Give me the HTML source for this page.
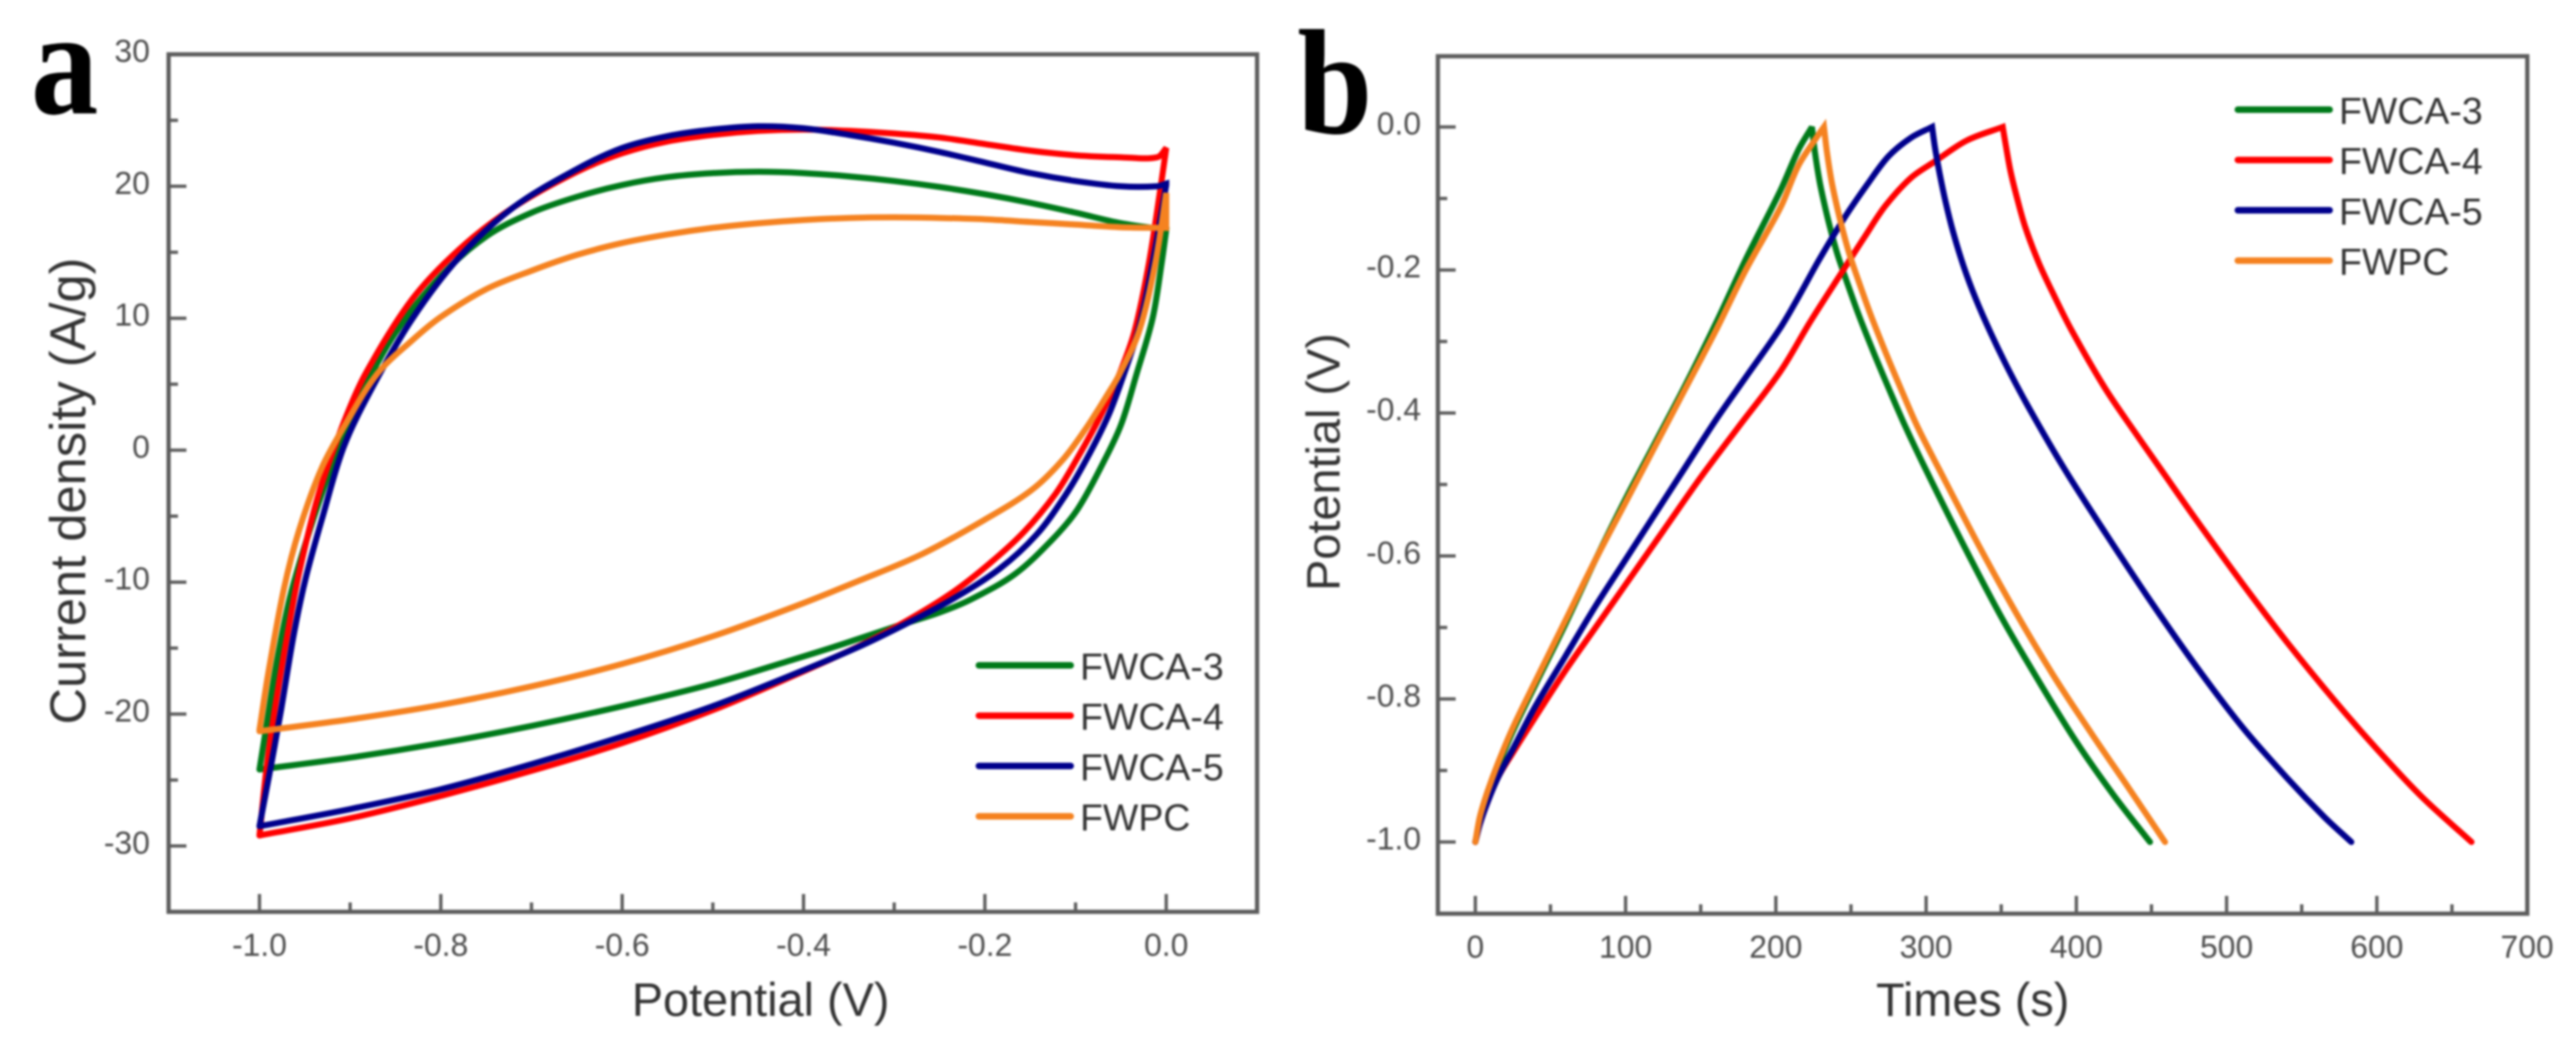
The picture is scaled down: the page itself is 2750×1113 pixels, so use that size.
<!DOCTYPE html>
<html lang="en">
<head>
<meta charset="utf-8">
<title>FWCA and FWPC electrochemical curves</title>
<style>
html,body{margin:0;padding:0;background:#fff;width:2750px;height:1113px;overflow:hidden}
svg{display:block;filter:blur(1.1px)}
text{font-family:"Liberation Sans",sans-serif}
</style>
</head>
<body>
<svg id="figure" xmlns="http://www.w3.org/2000/svg" width="2750" height="1113" viewBox="0 0 2750 1113">
<rect width="2750" height="1113" fill="#fff"/>
<text transform="translate(33,121) scale(.9,1)" font-size="160" font-weight="700" style="font-family:'Liberation Serif',serif" fill="#000">a</text>
<text transform="translate(1385,142) scale(.9,1)" font-size="160" font-weight="700" style="font-family:'Liberation Serif',serif" fill="#000">b</text>
<text x="812" y="1084" font-size="50" text-anchor="middle" fill="#333">Potential (V)</text>
<text transform="translate(91,524) rotate(-90)" font-size="54" text-anchor="middle" fill="#333">Current density (A/g)</text>
<text x="2106" y="1084" font-size="50" text-anchor="middle" fill="#333">Times (s)</text>
<text transform="translate(1430,493) rotate(-90)" font-size="50" text-anchor="middle" fill="#333">Potential (V)</text>
<g id="panel-a"></g>
<g id="panel-b"></g>
</svg>
<script>
// Shared legend and colours
const seriesNames = ["FWCA-3", "FWCA-4", "FWCA-5", "FWPC"];
const seriesColors = ["#007a1a", "#ff0000", "#00008c", "#f58220"];

// Panel a: tick labels
const cvXTicks = [-1.0, -0.8, -0.6, -0.4, -0.2, 0.0];
const cvXMinorTicks = [-0.9, -0.7, -0.5, -0.3, -0.1];
const cvYTicks = [30, 20, 10, 0, -10, -20, -30];
const cvYMinorTicks = [25, 15, 5, -5, -15, -25];

// Panel a: FWCA-3
const cv3UpV = [-1, -0.993, -0.98, -0.962, -0.921, -0.89, -0.85, -0.8, -0.75, -0.7, -0.65, -0.6, -0.55, -0.5, -0.45, -0.4, -0.35, -0.3, -0.25, -0.2, -0.15, -0.1, -0.05, 0];
const cv3UpI = [-24.2, -21.2, -15.7, -10, -1.3, 3.9, 8.9, 13.2, 16.2, 18, 19.2, 20.1, 20.7, 21, 21.1, 21, 20.75, 20.4, 19.95, 19.4, 18.75, 18, 17.2, 16.7];
const cv3DownV = [0, -0.005, -0.015, -0.033, -0.05, -0.071, -0.098, -0.126, -0.167, -0.215, -0.25, -0.298, -0.357, -0.408, -0.5, -0.6, -0.7, -0.8, -0.9, -1];
const cv3DownI = [16.7, 14.2, 10, 5.7, 1.9, -1.15, -4.5, -6.8, -9.4, -11.3, -12.3, -13.35, -14.7, -15.8, -17.7, -19.4, -20.9, -22.2, -23.3, -24.2];

// Panel a: FWCA-4
const cv4UpV = [-1, -0.992, -0.983, -0.969, -0.956, -0.935, -0.907, -0.883, -0.832, -0.78, -0.72, -0.65, -0.6, -0.55, -0.5, -0.45, -0.4, -0.35, -0.3, -0.25, -0.2, -0.15, -0.1, -0.05, -0.01, 0];
const cv4UpI = [-29.2, -24, -19.6, -13.9, -9.2, -3.4, 2.1, 5.8, 11.4, 15.2, 18.4, 21.1, 22.5, 23.4, 23.9, 24.2, 24.3, 24.2, 24, 23.7, 23.2, 22.7, 22.35, 22.2, 22.2, 22.9];
const cv4DownV = [0, -0.006, -0.019, -0.035, -0.052, -0.071, -0.098, -0.122, -0.157, -0.195, -0.236, -0.288, -0.339, -0.408, -0.5, -0.6, -0.7, -0.8, -0.9, -1];
const cv4DownI = [22.9, 20, 14.2, 9, 5.7, 2.8, -0.6, -3.3, -6.2, -8.6, -10.8, -13, -14.85, -17, -19.7, -22.2, -24.3, -26.2, -27.9, -29.2];

// Panel a: FWCA-5
const cv5UpV = [-1, -0.987, -0.976, -0.962, -0.949, -0.931, -0.907, -0.876, -0.832, -0.78, -0.72, -0.65, -0.6, -0.55, -0.5, -0.45, -0.4, -0.35, -0.3, -0.25, -0.2, -0.15, -0.1, -0.05, -0.01, 0];
const cv5UpI = [-28.5, -23.8, -19.6, -13.9, -9.7, -5.2, 0.26, 4.7, 9.9, 14.6, 18.4, 21.3, 22.9, 23.8, 24.3, 24.55, 24.4, 23.9, 23.3, 22.6, 21.8, 21, 20.4, 20, 20, 20.2];
const cv5DownV = [0, -0.015, -0.03, -0.047, -0.064, -0.088, -0.112, -0.143, -0.184, -0.236, -0.288, -0.339, -0.408, -0.5, -0.6, -0.7, -0.8, -0.9, -1];
const cv5DownI = [20.1, 14.2, 9.3, 5.7, 2.6, -0.7, -3.5, -6.4, -9, -11.3, -13.2, -14.9, -16.9, -19.4, -21.7, -23.8, -25.7, -27.2, -28.5];

// Panel a: FWPC
const cvPcUpV = [-1, -0.99, -0.973, -0.956, -0.931, -0.904, -0.87, -0.832, -0.8, -0.75, -0.7, -0.65, -0.6, -0.55, -0.5, -0.45, -0.4, -0.35, -0.3, -0.25, -0.2, -0.15, -0.1, -0.05, 0];
const cvPcUpI = [-21.2, -16.8, -10.5, -6, -1.3, 2.1, 5.8, 8.3, 10.1, 12.2, 13.6, 14.8, 15.7, 16.35, 16.85, 17.2, 17.45, 17.6, 17.65, 17.6, 17.5, 17.3, 17.1, 16.9, 16.85];
const cvPcDownV = [0, -0.012, -0.03, -0.052, -0.064, -0.088, -0.115, -0.149, -0.201, -0.27, -0.339, -0.408, -0.5, -0.6, -0.7, -0.8, -0.9, -1];
const cvPcDownI = [19.5, 14.2, 9, 5.7, 4.3, 1.7, -0.8, -3.05, -5.3, -7.9, -9.9, -11.8, -14.1, -16.2, -17.9, -19.3, -20.4, -21.3];

// Panel b: tick labels
const gcdXTicks = [0, 100, 200, 300, 400, 500, 600, 700];
const gcdXMinorTicks = [50, 150, 250, 350, 450, 550, 650];
const gcdYTicks = [0.0, -0.2, -0.4, -0.6, -0.8, -1.0];
const gcdYMinorTicks = [-0.1, -0.3, -0.5, -0.7, -0.9];

// Panel b: FWCA-3
const gcd3ChargeT = [0, 3, 8, 15, 25, 40, 60, 80, 100, 120, 140, 160, 180, 203, 215, 224];
const gcd3ChargeV = [-1, -0.97, -0.935, -0.895, -0.845, -0.78, -0.695, -0.605, -0.52, -0.44, -0.36, -0.275, -0.185, -0.089, -0.032, 0];
const gcd3DischargeT = [224, 226, 229, 232, 236, 241, 247, 255, 265, 275, 286, 300, 325, 350, 375, 400, 425, 449];
const gcd3DischargeV = [0, -0.035, -0.075, -0.105, -0.14, -0.178, -0.215, -0.262, -0.315, -0.365, -0.418, -0.48, -0.585, -0.685, -0.775, -0.86, -0.935, -1];

// Panel b: FWCA-4
const gcd4ChargeT = [0, 3, 8, 15, 25, 40, 60, 80, 100, 125, 150, 175, 203, 223, 244, 259, 273, 290, 306, 327, 351];
const gcd4ChargeV = [-1, -0.975, -0.945, -0.91, -0.875, -0.825, -0.76, -0.7, -0.64, -0.565, -0.49, -0.42, -0.342, -0.272, -0.203, -0.154, -0.11, -0.071, -0.048, -0.019, 0];
const gcd4DischargeT = [351, 353, 356, 360, 366, 375, 385, 397, 419, 440, 456, 480, 510, 540, 573, 600, 630, 663];
const gcd4DischargeV = [0, -0.025, -0.06, -0.095, -0.14, -0.19, -0.235, -0.285, -0.365, -0.43, -0.478, -0.55, -0.637, -0.72, -0.805, -0.87, -0.937, -1];

// Panel b: FWCA-5
const gcd5ChargeT = [0, 3, 8, 15, 25, 40, 60, 80, 100, 120, 140, 160, 180, 203, 215, 229, 246, 261, 275, 290, 304];
const gcd5ChargeV = [-1, -0.975, -0.945, -0.91, -0.87, -0.81, -0.74, -0.67, -0.605, -0.54, -0.475, -0.41, -0.35, -0.281, -0.238, -0.185, -0.126, -0.08, -0.041, -0.015, 0];
const gcd5DischargeT = [304, 306, 309, 313, 318, 325, 333, 343, 355, 369, 392, 420, 450, 480, 510, 540, 565, 583];
const gcd5DischargeV = [0, -0.03, -0.065, -0.105, -0.147, -0.195, -0.24, -0.288, -0.34, -0.395, -0.478, -0.57, -0.665, -0.755, -0.838, -0.91, -0.965, -1];

// Panel b: FWPC
const gcdPcChargeT = [0, 3, 8, 15, 25, 40, 60, 80, 100, 120, 140, 160, 180, 203, 215, 227, 232];
const gcdPcChargeV = [-1, -0.965, -0.93, -0.89, -0.84, -0.775, -0.69, -0.605, -0.525, -0.445, -0.365, -0.285, -0.2, -0.113, -0.054, -0.015, 0];
const gcdPcDischargeT = [232, 234, 237, 240, 244, 249, 255, 263, 273, 283, 294, 309, 335, 360, 385, 410, 435, 459];
const gcdPcDischargeV = [0, -0.035, -0.075, -0.105, -0.14, -0.178, -0.215, -0.262, -0.315, -0.365, -0.418, -0.48, -0.585, -0.68, -0.768, -0.848, -0.925, -1];

const SVG_NS = "http://www.w3.org/2000/svg";
const AXIS_COLOR = "#5c5c5c";
const TEXT_COLOR = "#4d4d4d";

function axisA(v) { return 1245 + v * 968; }
function axisAY(v) { return 480.4 - v * 14.08; }
function axisB(v) { return 1575 + v * 1.604; }
function axisBY(v) { return 135.5 - v * 763; }

function createNode(tag, parent, attrs) {
  const node = document.createElementNS(SVG_NS, tag);
  Object.keys(attrs).forEach(function (key) { node.setAttribute(key, attrs[key]); });
  parent.appendChild(node);
  return node;
}

function smoothBranch(xs, ys, sx, sy, continuing) {
  const pts = xs.map(function (x, i) { return [sx(x), sy(ys[i])]; });
  let d = (continuing ? "L" : "M") + pts[0][0].toFixed(2) + " " + pts[0][1].toFixed(2);
  function tangent(i) {
    const a = pts[Math.max(0, i - 1)];
    const b = pts[Math.min(pts.length - 1, i + 1)];
    const dx = b[0] - a[0];
    const dy = b[1] - a[1];
    const len = Math.hypot(dx, dy) || 1;
    return [dx / len, dy / len];
  }
  for (let i = 0; i < pts.length - 1; i++) {
    const p = pts[i];
    const q = pts[i + 1];
    const seg = Math.hypot(q[0] - p[0], q[1] - p[1]) / 3;
    const t0 = tangent(i);
    const t1 = tangent(i + 1);
    d += "C" + (p[0] + t0[0] * seg).toFixed(2) + " " + (p[1] + t0[1] * seg).toFixed(2) + " " +
      (q[0] - t1[0] * seg).toFixed(2) + " " + (q[1] - t1[1] * seg).toFixed(2) + " " +
      q[0].toFixed(2) + " " + q[1].toFixed(2);
  }
  return d;
}

function drawPanel(cfg) {
  const root = document.getElementById(cfg.id);

  cfg.series.forEach(function (s, i) {
    const d = smoothBranch(s[0], s[1], cfg.sx, cfg.sy, false) + smoothBranch(s[2], s[3], cfg.sx, cfg.sy, true);
    const path = createNode("path", root, { d: d, fill: "none", stroke: seriesColors[i], "stroke-width": 6.5, "stroke-linejoin": "miter", "stroke-miterlimit": 3, "stroke-linecap": "round" });
    
    
  });

  const frame = createNode("rect", root, { x: cfg.left, y: cfg.top, width: cfg.right - cfg.left, height: cfg.bottom - cfg.top, fill: "none", stroke: AXIS_COLOR, "stroke-width": 4.5 });
  
  

  cfg.xTicks.forEach(function (v) {
    const px = cfg.sx(v);
    const tick = createNode("line", root, { x1: px, x2: px, y1: cfg.bottom, y2: cfg.bottom - 19, stroke: AXIS_COLOR, "stroke-width": 3.5 });
    
    
    const label = createNode("text", root, { x: px, y: cfg.xLabelY, "font-size": 34, "text-anchor": "middle", fill: TEXT_COLOR });
    
    
    label.textContent = cfg.xFormat(v);
  });
  cfg.xMinor.forEach(function (v) {
    const px = cfg.sx(v);
    const tick = createNode("line", root, { x1: px, x2: px, y1: cfg.bottom, y2: cfg.bottom - 10, stroke: AXIS_COLOR, "stroke-width": 3.5 });
    
    
  });
  cfg.yTicks.forEach(function (v) {
    const py = cfg.sy(v);
    const tick = createNode("line", root, { x1: cfg.left, x2: cfg.left + 19, y1: py, y2: py, stroke: AXIS_COLOR, "stroke-width": 3.5 });
    
    
    const label = createNode("text", root, { x: cfg.yLabelX, y: py + 8, "font-size": 34, "text-anchor": "end", fill: TEXT_COLOR });
    
    
    label.textContent = cfg.yFormat(v);
  });
  cfg.yMinor.forEach(function (v) {
    const py = cfg.sy(v);
    const tick = createNode("line", root, { x1: cfg.left, x2: cfg.left + 10, y1: py, y2: py, stroke: AXIS_COLOR, "stroke-width": 3.5 });
    
    
  });

  seriesNames.forEach(function (name, i) {
    const ly = cfg.legendY + i * 53.7;
    const key = createNode("line", root, { x1: cfg.legendX, x2: cfg.legendX + 98, y1: ly, y2: ly, stroke: seriesColors[i], "stroke-width": 7, "stroke-linecap": "round" });
    
    
    const label = createNode("text", root, { x: cfg.legendX + 108, y: ly + 15, "font-size": 40, fill: "#333" });
    
    
    label.textContent = name;
  });
}

drawPanel({
  id: "panel-a", left: 180, right: 1342, top: 58, bottom: 973,
  sx: axisA, sy: axisAY,
  xTicks: cvXTicks, xMinor: cvXMinorTicks, yTicks: cvYTicks, yMinor: cvYMinorTicks,
  xFormat: function (v) { return v.toFixed(1); },
  yFormat: function (v) { return String(v); },
  xLabelY: 1020, yLabelX: 160, legendX: 1045, legendY: 710,
  series: [
    [cv3UpV, cv3UpI, cv3DownV, cv3DownI],
    [cv4UpV, cv4UpI, cv4DownV, cv4DownI],
    [cv5UpV, cv5UpI, cv5DownV, cv5DownI],
    [cvPcUpV, cvPcUpI, cvPcDownV, cvPcDownI]
  ]
});

drawPanel({
  id: "panel-b", left: 1535, right: 2698, top: 60, bottom: 975,
  sx: axisB, sy: axisBY,
  xTicks: gcdXTicks, xMinor: gcdXMinorTicks, yTicks: gcdYTicks, yMinor: gcdYMinorTicks,
  xFormat: function (v) { return String(v); },
  yFormat: function (v) { return v.toFixed(1); },
  xLabelY: 1022, yLabelX: 1517, legendX: 2389, legendY: 117,
  series: [
    [gcd3ChargeT, gcd3ChargeV, gcd3DischargeT, gcd3DischargeV],
    [gcd4ChargeT, gcd4ChargeV, gcd4DischargeT, gcd4DischargeV],
    [gcd5ChargeT, gcd5ChargeV, gcd5DischargeT, gcd5DischargeV],
    [gcdPcChargeT, gcdPcChargeV, gcdPcDischargeT, gcdPcDischargeV]
  ]
});
</script>
</body>
</html>
